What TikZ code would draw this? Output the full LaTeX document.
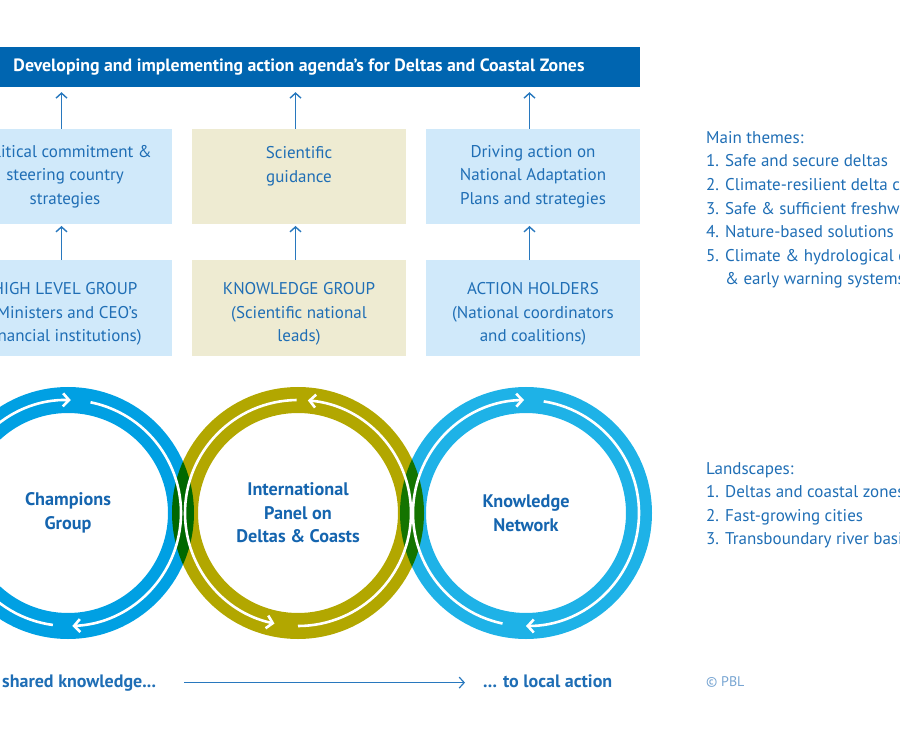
\documentclass[tikz,border=0pt]{standalone}
\usepackage{fontspec}
\setmainfont{PT Sans}
\usepackage{tikz}
\usetikzlibrary{arrows.meta}
\definecolor{bannerblue}{RGB}{0,101,176}
\definecolor{textblue}{RGB}{31,110,181}
\definecolor{labelblue}{RGB}{21,101,175}
\definecolor{boxblue}{RGB}{208,233,250}
\definecolor{boxbeige}{RGB}{238,235,210}
\definecolor{arrowblue}{RGB}{40,120,190}
\definecolor{ringblue}{RGB}{0,160,227}
\definecolor{ringolive}{RGB}{178,167,0}
\definecolor{ringcyan}{RGB}{30,178,231}
\definecolor{pblgray}{RGB}{120,165,210}
\newcommand{\lowstrut}{\rule{0pt}{24.5pt}}

\begin{document}
\begin{tikzpicture}[x=1pt,y=1pt]
\tikzset{box/.style = {shape=rectangle,minimum width=214pt,minimum height=95.5pt,inner sep=0pt,align=center,text=textblue,font=\fontsize{17}{23.6}\selectfont}}
\tikzset{bluebox/.style = {box,fill=boxblue}}
\tikzset{beigebox/.style = {box,fill=boxbeige}}
\tikzset{uparrow/.style = {-{Straight Barb[length=5pt,width=11pt]},draw=arrowblue,line width=1.4pt}}
\tikzset{ring/.style = {line width=26pt}}
\tikzset{flow/.style = {draw=white,line width=2.6pt,-{Straight Barb[length=6pt,width=13pt]}}}
\tikzset{ringlabel/.style = {align=center,inner sep=0pt,text=labelblue,font=\fontsize{18.2}{23.6}\selectfont\bfseries}}
\tikzset{listtext/.style = {align=left,inner sep=0pt,text=textblue,font=\fontsize{17}{23.6}\selectfont}}
\tikzset{endtext/.style = {anchor=base west,inner sep=0pt,text=textblue,font=\fontsize{18}{20}\selectfont\bfseries}}
\useasboundingbox (0,0) rectangle (900,-741);
\node[fill=bannerblue,minimum width=682pt,minimum height=40pt,inner sep=0pt,text=white,font=\fontsize{17.8}{20}\selectfont\bfseries](agenda) at (299,-67) {Developing and implementing action agenda’s for Deltas and Coastal Zones};
\node[bluebox](pol) at (65,-176.5) {Political commitment \&\\steering country\\strategies};
\node[beigebox](sci) at (299,-176.5) {Scientific\\guidance\\\phantom{x}};
\node[bluebox](drv) at (533,-176.5) {Driving action on\\National Adaptation\\Plans and strategies};
\node[bluebox](hlg) at (65,-308) {\lowstrut HIGH LEVEL GROUP\\(Ministers and CEO’s\\financial institutions)};
\node[beigebox](kng) at (299,-308) {\lowstrut KNOWLEDGE GROUP\\(Scientific national\\leads)};
\node[bluebox](act) at (533,-308) {\lowstrut ACTION HOLDERS\\(National coordinators\\and coalitions)};
\foreach \a in {pol,sci,drv}
  \draw[uparrow,shorten >=5pt] ([xshift=-3.5pt]\a.north) -- ([xshift=-3.5pt]\a.north |- agenda.south);
\foreach \a/\b in {hlg/pol,kng/sci,act/drv}
  \draw[uparrow,shorten >=1.5pt] ([xshift=-3.5pt]\a.north) -- ([xshift=-3.5pt]\b.south);

\node[ringlabel](champ) at (68,-513) {Champions\\Group};
\node[ringlabel](panel) at (298,-513) {International\\Panel on\\Deltas \& Coasts};
\node[ringlabel](net) at (526,-513) {Knowledge\\Network};
\begin{scope}[blend group=multiply]
\draw[ring,draw=ringblue] (champ.center) circle (113);
\draw[ring,draw=ringolive] (panel.center) circle (113);
\draw[ring,draw=ringcyan] (net.center) circle (113);
\end{scope}
\foreach \c/\s/\e in {champ/78.5/-87.8,champ/-97.7/-271.4,panel/-90/85,panel/90.7/258,net/81/-90,net/-102/-269}
  \draw[flow] (\c.center) ++(\s:113) arc[start angle=\s,end angle=\e,radius=113];

\node[listtext,anchor=north west](themes) at (706,-131) {Main themes:\\1. Safe and secure deltas\\2. Climate-resilient delta cities\\3. Safe \& sufficient freshwater\\4. Nature-based solutions\\5. Climate \& hydrological data\\\phantom{5. }\& early warning systems};
\node[listtext,anchor=north west](lands) at (706,-462) {Landscapes:\\1. Deltas and coastal zones\\2. Fast-growing cities\\3. Transboundary river basins};

\node[endtext](shared) at (2,-687) {shared knowledge...};
\node[endtext](local) at (483,-687) {... to local action};
\draw[uparrow,line width=1.2pt,shorten <=28pt,shorten >=18pt] (shared.east) -- (shared.east -| local.west);
\node[anchor=base west,inner sep=0pt,text=pblgray,font=\fontsize{14}{16}\selectfont](pbl) at (706,-686) {© PBL};
\end{tikzpicture}
\end{document}
